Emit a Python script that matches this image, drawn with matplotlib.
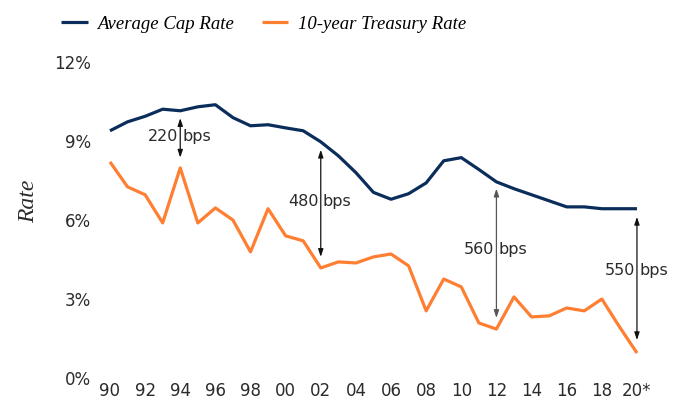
import matplotlib
matplotlib.use('Agg')
import matplotlib.pyplot as plt

# data
years = list(range(1990, 2021))
cap_rate = [9.39, 9.73, 9.94, 10.21, 10.15, 10.30, 10.38, 9.89, 9.58, 9.62,
            9.50, 9.39, 8.97, 8.44, 7.80, 7.05, 6.79, 7.00, 7.41, 8.25,
            8.37, 7.92, 7.45, 7.19, 6.96, 6.73, 6.50, 6.50, 6.43, 6.43, 6.43]
treasury = [8.21, 7.26, 6.96, 5.89, 7.98, 5.89, 6.46, 6.00, 4.79, 6.43,
            5.40, 5.21, 4.18, 4.41, 4.37, 4.60, 4.71, 4.26, 2.55, 3.76,
            3.46, 2.09, 1.86, 3.08, 2.32, 2.36, 2.66, 2.55, 3.00, 1.95, 0.95]
xtick_years = list(range(1990, 2021, 2))
xtick_labels = ['90', '92', '94', '96', '98', '00', '02', '04', '06', '08',
                '10', '12', '14', '16', '18', '20*']
ytick_vals = [0, 3, 6, 9, 12]
ytick_labels = ['0%', '3%', '6%', '9%', '12%']

# spread annotations: year, arrow top, arrow bottom, label height, label
spread_years = [1994, 2002, 2012, 2020]
spread_top = [9.87, 8.67, 7.19, 6.12]
spread_bottom = [8.37, 4.60, 2.28, 1.44]
spread_text_y = [9.16, 6.70, 4.90, 4.07]
spread_num = ['220', '480', '560', '550']
spread_color = ['#111111', '#111111', '#555555', '#111111']

navy = '#0b2d5b'
orange = '#ff7f32'
txt = '#2b2b2b'

fig = plt.figure(figsize=(6.83, 4.03), dpi=100)
ax = fig.add_axes([0.1353, 0.062, 0.823, 0.784])

l1, = ax.plot(years, cap_rate, color=navy, lw=2.3, solid_capstyle='butt')
l2, = ax.plot(years, treasury, color=orange, lw=2.3, solid_capstyle='butt')

for x, top, bot, ty, num, c in zip(spread_years, spread_top, spread_bottom,
                                   spread_text_y, spread_num, spread_color):
    ax.annotate('', xy=(x, top), xytext=(x, bot),
                arrowprops=dict(arrowstyle='<|-|>,head_length=0.45,head_width=0.15',
                                color=c, lw=0.9, shrinkA=0, shrinkB=0))
    ax.text(x - 0.12, ty, num, ha='right', va='center', fontsize=11.5,
            color=txt, family='DejaVu Sans')
    ax.text(x + 0.12, ty, 'bps', ha='left', va='center', fontsize=11.5,
            color=txt, family='DejaVu Sans')

ax.set_xlim(1989, 2021)
ax.set_ylim(0, 12)
ax.set_xticks(xtick_years)
ax.set_xticklabels(xtick_labels)
ax.set_yticks(ytick_vals)
ax.set_yticklabels(ytick_labels)
ax.tick_params(axis='both', length=0, labelsize=12, colors=txt)
ax.tick_params(axis='x', pad=3)
ax.tick_params(axis='y', pad=1)
for s in ax.spines.values():
    s.set_visible(False)

fig.text(0.042, 0.5, 'Rate', rotation=90, ha='center', va='center',
         fontsize=17, style='italic', family='Liberation Serif', color=txt)

fig.legend([l1, l2], ['Average Cap Rate', '10-year Treasury Rate'],
           loc='center', bbox_to_anchor=(0.386, 0.94), ncol=2, frameon=False,
           handlelength=1.4, columnspacing=1.5, handletextpad=0.5,
           prop={'family': 'Liberation Serif', 'style': 'italic', 'size': 13.5})

fig.savefig('out.png', dpi=100)
